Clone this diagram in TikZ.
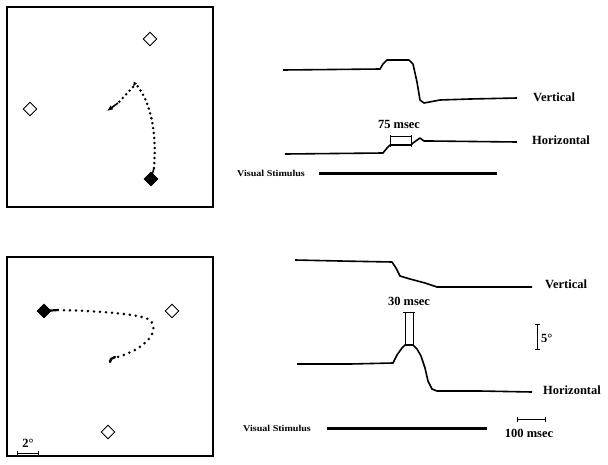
\documentclass[tikz,border=0pt]{standalone}
\usepackage{fontspec}
\setmainfont{Liberation Serif}
\usetikzlibrary{shapes.geometric,arrows.meta}
\tikzset{
  panel/.style={draw, line width=1.3pt},
  target/.style={diamond, draw, line width=0.9pt, minimum width=14pt, minimum height=14pt, inner sep=0pt, fill=white},
  fixtarget/.style={diamond, draw, fill=black, line width=0.9pt, minimum width=14pt, minimum height=14pt, inner sep=0pt},
  traj/.style={line width=2.8pt, line cap=round, dash pattern=on 0pt off 5pt},
  trajwide/.style={line width=2.8pt, line cap=round, dash pattern=on 0pt off 6pt},
  trace/.style={line width=1.6pt, line join=round},
  lbl/.style={font=\fontsize{12.5}{14}\selectfont\bfseries, inner sep=0pt},
  stim/.style={font=\fontsize{9}{10}\selectfont\bfseries, inner sep=0pt},
  stimbar/.style={line width=3pt},
  scalebar/.style={line width=0.9pt, {Bar[width=5pt]}-{Bar[width=5pt]}},
  bracket/.style={line width=0.9pt}
}
\begin{document}
\begin{tikzpicture}[x=1pt,y=-1pt]
\useasboundingbox (0,0) rectangle (608,464);
% ---------- top-left panel ----------
\node[panel, minimum width=206pt, minimum height=200pt, inner sep=0pt] (p1) at (110,107) {};
\node[target] (t1a) at (150,39) {};
\node[target] (t1b) at (30,109) {};
\node[fixtarget] (f1) at (151,179) {};
\coordinate (a1) at (154,168);
\coordinate (k1) at (135,83);
\draw[line width=1.5pt] (f1.center) -- (a1);
\draw[traj] (a1) .. controls (157,130) and (150,100) .. (k1);
\draw[line width=1.5pt, -{Latex[length=5pt,width=4pt]}] (k1) -- (133,87);
\draw[traj] (133,87) -- (118,103);
\draw[line width=1.6pt, -{Latex[length=6pt,width=5pt]}] (118,103) -- (107,111);
% ---------- top traces ----------
\draw[trace] (283,70) -- (380,69) -- (383,64) -- (387,60) -- (409,60) -- (413,64) -- (417,82) -- (420,100) -- (424,103) -- (440,100) -- (470,99) -- (517,98);
\node[lbl, anchor=west] (v1) at (533,97) {Vertical};
\draw[trace] (285,154) -- (383,153) -- (387,148) -- (390,145) -- (411,145) -- (413,143) -- (420,138) -- (424,141) -- (430,141) -- (517,142);
\draw[bracket] (390,135) -- (390,147) (411,135) -- (411,147) (390,136) -- (411,136);
\node[lbl] (m1) at (399,124) {75 msec};
\node[lbl, anchor=west] (h1) at (532,140) {Horizontal};
\node[stim, anchor=west] (s1) at (237,173) {\scalebox{1.12}[1]{Visual Stimulus}};
\coordinate (sb1a) at (319,173);
\coordinate (sb1b) at (497,173);
\draw[stimbar] (sb1a) -- (sb1b);
% ---------- bottom-left panel ----------
\node[panel, minimum width=206pt, minimum height=199pt, inner sep=0pt] (p2) at (110,356.5) {};
\node[target] (t2a) at (172,311) {};
\node[target] (t2b) at (108,432) {};
\node[fixtarget] (f2) at (44,311) {};
\coordinate (a2) at (58,310);
\draw[line width=2.2pt] (f2.center) -- (a2);
\draw[trajwide] (a2) .. controls (100,311) and (140,314) .. (150,320) .. controls (158,328) and (152,340) .. (135,350) .. controls (125,355) and (118,357) .. (114,358);
\draw[line width=2.4pt, line cap=round] (115,357) -- (111,359) -- (110,362);
\coordinate (sc2a) at (17,453);
\coordinate (sc2b) at (39,453);
\draw[scalebar] (sc2a) -- (sc2b);
\node[lbl] (d2) at (28,443) {2\textdegree};
% ---------- bottom traces ----------
\draw[trace] (295,260) -- (340,261) -- (392,262) -- (396,268) -- (400,276) -- (410,279) -- (425,283) -- (437,287) -- (480,287) -- (532,287);
\node[lbl, anchor=west] (v2) at (545,284) {Vertical};
\draw[trace] (297,364) -- (350,364) -- (393,363) -- (397,355) -- (402,348) -- (405,345) -- (413,345) -- (417,349) -- (421,356) -- (425,368) -- (428,381) -- (432,389) -- (437,391) -- (480,391) -- (532,392);
\draw[bracket] (405,312) -- (405,345) (413,312) -- (413,345) (403,312) -- (415,312);
\node[lbl] (m2) at (409,301) {30 msec};
\node[lbl, anchor=west] (h2) at (543,390) {Horizontal};
\coordinate (sc5a) at (537,324);
\coordinate (sc5b) at (537,350);
\draw[scalebar] (sc5a) -- (sc5b);
\node[lbl, anchor=west] (d5) at (541,338) {5\textdegree};
\node[stim, anchor=west] (s2) at (243,428) {\scalebox{1.12}[1]{Visual Stimulus}};
\coordinate (sb2a) at (327,428);
\coordinate (sb2b) at (487,428);
\draw[stimbar] (sb2a) -- (sb2b);
\coordinate (sc6a) at (517,419);
\coordinate (sc6b) at (546,419);
\draw[scalebar] (sc6a) -- (sc6b);
\node[lbl] (m3) at (529,433) {100 msec};
\end{tikzpicture}
\end{document}
